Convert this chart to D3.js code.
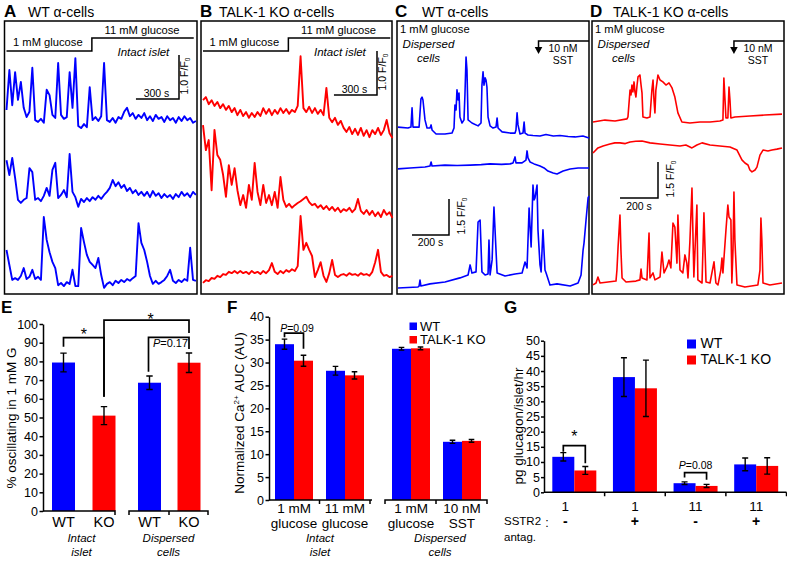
<!DOCTYPE html>
<html><head><meta charset="utf-8">
<script src="https://cdn.jsdelivr.net/npm/d3@7"></script>
<style>
body{margin:0;background:#fff}
svg{display:block}
text{font-family:"Liberation Sans",Arial,Helvetica,sans-serif;fill:#000}
</style>
</head><body>
<svg id="chart" width="787" height="561"></svg>
<script>
// ---------------- DATA ----------------
// Panels A/B: intact islet traces, F/F0 relative to each trace baseline, one value every 20 s
const traceStep = 20;
const glucoseSwitchA = 595;   // s, 1 mM -> 11 mM glucose
const traceA1 = [0.34,1.25,0.45,1.2,0.57,0.98,0.39,0.18,0.3,1.3,0.11,0.07,0.14,0.05,0.8,0.68,0.23,0.16,1.41,0.23,0.14,0.18,1.2,0.39,1.52,-0.02,-0.07,0.02,-0.05,0.86,0.11,0.18,0.09,0.2,1.41,0.11,0.07,0.16,0.05,0.18,0.14,0.3,0.39,0.2,0.27,0.14,0.23,0.16,0.27,0.11,0.2,0.09,0.23,0.14,0.18,0.07,0.2,0.11,0.16,0.05,0.18,0.09,0.2,0.11,0.16,0.05,0.09];
const traceA2 = [0.95,0.61,1.0,0.55,0.05,-0.02,0.05,0.09,0.77,0.68,0.05,0.09,0.02,0.14,0.32,0.14,0.73,0.89,0.09,0.16,0.27,0.11,1.09,0.23,0.11,-0.11,0.07,0,0.09,0.02,0.11,0.05,0.14,0.07,0.16,0.23,0.32,0.5,0.36,0.45,0.32,0.39,0.25,0.32,0.2,0.27,0.16,0.23,0.14,0.23,0.11,0.25,0.14,0.2,0.09,0.18,0.11,0.16,0.07,0.18,0.11,0.23,0.14,0.2,0.11,0.23,0.16];
const traceA3 = [0.75,0.41,0.07,0.11,0.07,0.16,0.34,0.09,0.14,0.3,0.09,0.14,0.07,1.5,0.98,0.7,0.48,0.34,-0.05,0,-0.07,0.02,-0.02,0.3,-0.07,-0.07,1.25,0.93,0.64,0.48,0.41,0.34,0.57,0.18,-0.11,-0.02,0.02,-0.05,0.05,0,0.07,0.02,0.09,0.05,0.11,0.16,1.36,0.91,0.75,0.48,0.16,-0.02,0.05,-0.02,0.02,0.07,0.16,0.3,0.05,0,0.07,0.02,0.09,0.05,0.8,0.07,0.05];
const traceB1 = [0.45,0.52,0.36,0.45,0.32,0.41,0.27,0.36,0.23,0.32,0.18,0.27,0.11,0.23,0.09,0.18,0.05,0.16,0.07,0.18,0.09,0.27,0.14,0.25,0.11,0.23,0.14,0.27,0.16,0.25,0.14,0.23,0.18,0.32,1.45,0.27,0.18,0.3,0.16,0.27,0.14,0.23,0.11,0.73,0.05,-0.05,0.05,-0.11,-0.02,-0.18,-0.27,-0.16,-0.32,-0.2,-0.34,-0.18,-0.36,-0.23,-0.39,-0.23,-0.32,-0.18,-0.34,-0.23,0,-0.3,-0.41];
const traceB2 = [1.93,1.36,1.59,0.45,1.82,1.25,1.14,0.8,0.3,1.02,0.57,0.95,0.45,0.11,0.34,0.05,0.57,0.23,1.07,0.41,0.11,0.57,0.16,0.34,0.11,0.41,0.05,0.75,0.23,0.07,0.14,0.05,0.11,0.16,0.2,0.25,0.3,0.18,0.11,0.14,0.05,0.11,0.02,0.09,0,0.07,-0.02,0.05,-0.05,0.02,-0.02,0.05,-0.05,0.02,0.25,-0.02,-0.09,0,-0.11,-0.02,-0.14,-0.05,-0.16,0,-0.11,-0.05,-0.18];
const traceB3 = [-0.11,-0.05,-0.07,0,-0.02,0.05,0.02,0.09,0.07,0.14,0.11,0.16,0.11,0.16,0.11,0.14,0.09,0.16,0.11,0.14,0.09,0.16,0.11,0.18,0.34,0.14,0.09,0.16,0.11,0.18,0.14,0.2,0.16,0.27,1.41,0.64,0.8,0.64,0.5,0.02,0.18,0.36,0.05,-0.09,0.11,0.41,0.07,0.02,0.07,0.09,0.05,0.11,0.07,0.09,0.05,0.11,0.07,0.09,0.05,0.14,0.36,0.64,0.14,0.05,0.07,0.02,0.05];

// Panels C/D: dispersed cells, [time s, F/F0 relative to baseline]
const sstTimeC = 760, sstTimeD = 742;
const traceC1 = [[0,0.33],[54,0.29],[70,0.33],[76,1.13],[81,0.33],[114,0.33],[124,1.5],[130,1.58],[135,1.46],[146,0.63],[157,0.29],[173,0.29],[179,0.42],[184,0.21],[206,0.04],[254,0.04],[292,0.08],[303,0.29],[308,1.25],[314,1.04],[319,1.88],[325,1.46],[330,1.75],[335,0.75],[346,0.5],[357,0.63],[362,1.67],[368,3.25],[373,2.71],[379,0.63],[400,0.5],[433,0.38],[449,0.5],[454,2.08],[460,2.63],[465,2.08],[471,2.38],[476,2.29],[481,2.0],[487,0.75],[498,0.38],[514,0.29],[530,0.33],[536,0.71],[541,0.29],[563,0.13],[606,0.08],[633,0.08],[638,0.21],[644,0.92],[649,0.42],[660,0.04],[676,0.08],[682,0.54],[687,0.08],[703,0],[730,-0.02],[768,-0.04],[800,0.02],[840,-0.04],[876,-0.02],[920,-0.06],[958,-0.08],[1000,-0.04],[1033,-0.13]];
const traceC2 = [[0,-0.08],[65,-0.04],[146,0],[173,0.04],[179,0.21],[184,0.04],[254,0.08],[320,0.06],[390,0.08],[450,0.1],[498,0.13],[560,0.11],[606,0.13],[622,0.17],[633,0.42],[638,0.17],[671,0.17],[692,0.29],[698,0.67],[703,0.38],[714,0.21],[736,0.13],[768,0.04],[790,-0.04],[811,-0.17],[839,-0.25],[860,-0.29],[893,-0.17],[931,-0.08],[974,-0.04],[1033,-0.04]];
const traceC3 = [[0,-0.04],[108,0],[114,0.04],[119,0.29],[124,0.04],[173,0.13],[254,0.21],[335,0.38],[379,0.5],[390,0.92],[400,0.58],[422,0.63],[433,2.71],[444,2.79],[454,0.63],[471,0.5],[487,0.54],[492,1.96],[498,0.5],[509,1.13],[519,3.33],[530,1.54],[536,0.58],[579,0.46],[633,0.54],[671,0.58],[687,1.04],[698,0.79],[709,3.29],[720,1.67],[730,4.25],[736,3.63],[741,3.71],[752,4.25],[757,2.38],[768,0.92],[774,0.63],[784,2.38],[795,0.71],[801,0.58],[822,0.08],[860,0.13],[931,0.04],[974,0.17],[990,0.5],[1001,1.54],[1006,1.83],[1017,2.79],[1028,3.71],[1033,3.79]];
const traceD1 = [[0,0],[63,0.08],[116,0.04],[179,0.13],[184,0.21],[195,1.33],[200,1.13],[205,1.54],[210,1.25],[216,1.67],[221,1.25],[226,1.04],[232,1.54],[237,1.88],[247,1.96],[253,1.54],[258,1.21],[263,0.21],[284,0.17],[300,0.21],[310,1.33],[316,1.75],[321,0.92],[326,0.38],[331,1.33],[337,1.67],[342,1.96],[353,1.75],[368,1.67],[384,1.54],[400,1.63],[416,1.42],[431,1.04],[447,0.38],[468,0],[510,-0.04],[563,0],[616,0],[668,0.04],[684,0.08],[689,1.83],[695,0.92],[700,0.17],[710,0.17],[716,1.46],[721,0.92],[726,0.17],[747,0.21],[826,0.25],[905,0.29],[995,0.33]];
const traceD2 = [[0,-0.29],[26,-0.08],[53,0],[89,0.08],[115,0.13],[142,0.13],[170,0.1],[195,0.17],[225,0.2],[258,0.21],[300,0.13],[353,0.08],[405,0.04],[458,0],[489,0.04],[521,-0.08],[547,0.04],[574,0.13],[616,0.04],[668,0],[721,-0.04],[758,-0.17],[784,-0.58],[800,-0.71],[816,-0.79],[826,-1.0],[837,-1.08],[853,-1.0],[863,-0.88],[879,-0.38],[895,-0.17],[921,-0.21],[942,-0.17],[968,-0.13],[995,-0.08]];
const traceD3 = [[0,-0.08],[16,0],[26,0.25],[37,0],[79,0.04],[121,0.08],[126,0.54],[132,1.5],[142,2.83],[147,1.38],[153,0.21],[174,0.04],[226,0.08],[247,0.13],[253,0.58],[258,0.21],[284,0.13],[295,2.08],[300,0.21],[316,0.42],[326,0.13],[353,0.25],[363,1.29],[374,0.42],[389,0.67],[400,0.96],[410,0.63],[421,2.5],[431,2.33],[442,0.83],[447,2.83],[458,0.54],[473,0.42],[484,1.17],[494,0.83],[500,0.21],[510,1.71],[521,3.96],[531,0.25],[547,3.25],[552,0.13],[574,0],[584,2.92],[595,0.04],[616,0],[637,0.88],[647,0],[658,-0.08],[673,0.54],[679,1.04],[684,0.42],[700,2.21],[710,3.25],[716,2.75],[726,2.63],[731,0],[737,1.38],[742,3.79],[747,1.79],[758,-0.08],[800,-0.17],[868,-0.08],[879,0.54],[884,2.71],[889,1.79],[895,0],[931,-0.08],[995,0]];

// Panel E
const eLabels = ["WT","KO","WT","KO"];
const eGroups = ["Intact islet","Dispersed cells"];
const eGroupOf = [0,0,1,1];
const eValues = [79.4, 51.0, 68.6, 79.3];
const eErrors = [5.0, 4.8, 3.6, 5.2];
const eTicks = [0,10,20,30,40,50,60,70,80,90,100];

// Panel F
const fCategories = [["1 mM","glucose"],["11 mM","glucose"],["1 mM","glucose"],["10 nM","SST"]];
const fGroups = ["Intact islet","Dispersed cells"];
const fGroupOf = [0,0,1,1];
const fWT = [34.0, 28.2, 33.0, 12.7];
const fWTErr = [1.1, 0.95, 0.3, 0.35];
const fKO = [30.4, 27.2, 33.1, 12.9];
const fKOErr = [1.2, 0.8, 0.3, 0.3];
const fTicks = [0,5,10,15,20,25,30,35,40];

// Panel G
const gGlucose = ["1","1","11","11"];
const gAntag = ["-","+","-","+"];
const gWT = [11.7, 38.0, 3.0, 9.2];
const gWTErr = [1.4, 6.4, 0.45, 2.1];
const gKO = [7.2, 34.3, 2.1, 8.7];
const gKOErr = [1.3, 9.3, 0.5, 2.7];
const gTicks = [0,5,10,15,20,25,30,35,40,45,50];

const seriesNames = ["WT","TALK-1 KO"];
const BLUE = "#0000ff", RED = "#ff0000";

// ---------------- DRAWING ----------------
const svg = d3.select("#chart");

function txt(x, y, s, o = {}) {
  const t = svg.append("text").attr("x", x).attr("y", y).text(s)
    .attr("font-size", o.size || 12).attr("text-anchor", o.anchor || "start");
  if (o.italic) t.attr("font-style", "italic");
  if (o.bold) t.attr("font-weight", "bold");
  return t;
}
function line(d, w = 1.5) {
  return svg.append("path").attr("d", d).attr("fill", "none").attr("stroke", "#000").attr("stroke-width", w);
}
function frame(x0, y0, x1, y1) {
  svg.append("rect").attr("x", x0).attr("y", y0).attr("width", x1 - x0).attr("height", y1 - y0)
    .attr("fill", "none").attr("stroke", "#000").attr("stroke-width", 1.5);
}
function rotLabel(x, y, main, sub, size) {
  const t = svg.append("text").attr("transform", `translate(${x},${y}) rotate(-90)`)
    .attr("text-anchor", "middle").attr("font-size", size);
  t.append("tspan").text(main);
  t.append("tspan").attr("font-size", size * 0.62).attr("dy", 2).text(sub);
  return t;
}
function drawTraces(xs, pxPerF, traces, color, w) {
  traces.forEach(tr => {
    const ys = d3.scaleLinear().domain([0, 1]).range([tr.base, tr.base - pxPerF]);
    svg.append("path").datum(tr.data)
      .attr("d", d3.line().x(d => xs(d[0])).y(d => ys(d[1])))
      .attr("fill", "none").attr("stroke", color).attr("stroke-width", w)
      .attr("stroke-linejoin", "round");
  });
}
const uniform = arr => arr.map((v, i) => [i * traceStep, v]);

// ----- Panel titles -----
[["A", 4, "WT α-cells", 28], ["B", 200, "TALK-1 KO α-cells", 219],
 ["C", 395, "WT α-cells", 422], ["D", 590, "TALK-1 KO α-cells", 613]].forEach(p => {
  txt(p[1], 16.5, p[0], { size: 17, bold: true });
  txt(p[3], 16.5, p[2], { size: 14 });
});

// ----- Panels A & B -----
function intactPanel(left, right, traces, color, barRight, barBottom) {
  frame(left, 21, right, 294);
  const xs = d3.scaleLinear().domain([0, 1320]).range([left + 2, left + 2 + 189.4]);
  drawTraces(xs, 44, traces, color, 1.9);
  // glucose step
  line(`M${xs(0)},51H${xs(glucoseSwitchA)}V38H${xs(1305)}`, 1.5);
  txt(left + 8.5, 45.7, "1 mM glucose", { size: 11.2 });
  txt(left + 100, 34, "11 mM glucose", { size: 11.2 });
  txt(left + 113, 56, "Intact islet", { size: 11.5, italic: true });
  // scale bar: 300 s x 1.0 F/F0
  const len = xs(300) - xs(0);
  line(`M${barRight - len},${barBottom}H${barRight}V${barBottom - 44}`, 1.5);
  txt(barRight - len / 2 - 1, barBottom - 2.5, "300 s", { size: 10.5, anchor: "middle" });
  rotLabel(barRight + 9, barBottom - 23, "1.0 F/F", "0", 10.5);
}
intactPanel(4.5, 197, [
  { base: 125, data: uniform(traceA1) },
  { base: 202, data: uniform(traceA2) },
  { base: 283, data: uniform(traceA3) }], BLUE, 179, 99);
intactPanel(201, 392, [
  { base: 120, data: uniform(traceB1) },
  { base: 210, data: uniform(traceB2) },
  { base: 278, data: uniform(traceB3) }], RED, 377, 95);

// ----- Panels C & D -----
function dispersedPanel(left, right, xs, traces, color, sstT, bar) {
  frame(left, 21, right, 294);
  drawTraces(xs, 24, traces, color, 1.6);
  txt(left + 3, 33.3, "1 mM glucose", { size: 11.2 });
  txt(left + 31.5, 48, "Dispersed", { size: 11.5, italic: true, anchor: "middle" });
  txt(left + 31.5, 61.7, "cells", { size: 11.5, italic: true, anchor: "middle" });
  const ax = xs(sstT);
  line(`M${right},41H${ax}V48`, 1.5);
  svg.append("path").attr("d", `M${ax - 3.8},47L${ax + 3.8},47L${ax},54Z`).attr("fill", "#000");
  txt(left + 166, 51.7, "10 nM", { size: 10.5, anchor: "middle" });
  txt(left + 166, 64, "SST", { size: 10.5, anchor: "middle" });
  // scale bar: 200 s x 1.5 F/F0
  const len = xs(200) - xs(0);
  line(`M${bar.x - len},${bar.y}H${bar.x}V${bar.y - 36}`, 1.5);
  txt(bar.x - len / 2, bar.ty, "200 s", { size: 10.5, anchor: "middle" });
  rotLabel(bar.x + 16, bar.y - 19, "1.5 F/F", "0", 10.5);
}
const xC = d3.scaleLinear().domain([0, 1033]).range([398, 589]);
dispersedPanel(397, 589, xC, [
  { base: 135, data: traceC1 }, { base: 167, data: traceC2 }, { base: 287, data: traceC3 }],
  BLUE, sstTimeC, { x: 449, y: 235, ty: 245.5 });
const xD = d3.scaleLinear().domain([0, 995]).range([593, 782]);
dispersedPanel(592, 784, xD, [
  { base: 122, data: traceD1 }, { base: 146, data: traceD2 }, { base: 283, data: traceD3 }],
  RED, sstTimeD, { x: 658, y: 198, ty: 209.5 });

// ----- common bar helpers -----
function styleAxis(g, size) {
  g.selectAll("path,line").attr("stroke", "#000").attr("stroke-width", 1.5);
  g.selectAll("text").attr("font-size", size).attr("font-family", null);
  g.attr("font-family", null);
}
function errBar(cx, ys, v, e, cap = 3.2) {
  line(`M${cx},${ys(v + e)}V${ys(v - e)}M${cx - cap},${ys(v + e)}H${cx + cap}M${cx - cap},${ys(v - e)}H${cx + cap}`, 1.4);
}
function bracket(x1, x2, ys, b1, top, b2) {
  line(`M${x1},${ys(b1)}V${ys(top)}H${x2}V${ys(b2)}`, 1.7);
}
function pText(cx, y, val, size) {
  const t = svg.append("text").attr("x", cx).attr("y", y).attr("text-anchor", "middle").attr("font-size", size);
  t.append("tspan").attr("font-style", "italic").text("P");
  t.append("tspan").text("=" + val);
}
function star(cx, y) { txt(cx, y, "*", { size: 16, anchor: "middle" }); }

// ----- Panel E -----
txt(1, 313, "E", { size: 17, bold: true });
const yE = d3.scaleLinear().domain([0, 100]).range([511, 324]);
const xE = [d3.scalePoint().domain(["WT", "KO"]).range([63.5, 104]),
            d3.scalePoint().domain(["WT", "KO"]).range([149.5, 189])];
const eCx = eLabels.map((l, i) => xE[eGroupOf[i]](l));
eValues.forEach((v, i) => {
  svg.append("rect").attr("x", eCx[i] - 11.5).attr("y", yE(v)).attr("width", 23)
    .attr("height", yE(0) - yE(v)).attr("fill", eLabels[i] === "WT" ? BLUE : RED);
});
eValues.forEach((v, i) => errBar(eCx[i], yE, v, eErrors[i]));
styleAxis(svg.append("g").attr("transform", "translate(43,0)")
  .call(d3.axisLeft(yE).tickValues(eTicks).tickSize(3.5).tickPadding(1.5).tickSizeOuter(0)), 12.5);
line(`M43,${yE(0)}H115V${yE(0) + 4}`);
line(`M129,${yE(0) + 4}V${yE(0)}H208V${yE(0) + 4}M169,${yE(0)}V${yE(0) + 4}`);
eLabels.forEach((l, i) => txt(eCx[i], 527, l, { size: 14.5, anchor: "middle" }));
[[81.5, 0], [168.5, 1]].forEach(([cx, g]) => {
  const parts = eGroups[g].split(" ");
  txt(cx, 542, parts[0], { size: 11.5, italic: true, anchor: "middle" });
  txt(cx, 556, parts[1], { size: 11.5, italic: true, anchor: "middle" });
});
bracket(eCx[0], eCx[1], yE, 87.9, 92.7, 61.1);
star((eCx[0] + eCx[1]) / 2, 340);
bracket(eCx[1], eCx[3], yE, 61.1, 102.1, 95.2);
star((eCx[1] + eCx[3]) / 2 + 4, 324.5);
bracket(eCx[2] - 1, eCx[3], yE, 74.5, 92.9, 86.6);
pText(170.5, 346.7, "0.17", 11);
svg.append("text").attr("transform", "translate(15.5,418) rotate(-90)")
  .attr("text-anchor", "middle").attr("font-size", 13.5).text("% oscillating in 1 mM G");

// ----- Panel F -----
txt(227, 313, "F", { size: 17, bold: true });
const yF = d3.scaleLinear().domain([0, 40]).range([500, 316.7]);
const xFseg = [d3.scalePoint().domain([0, 1]).range([294, 345]),
               d3.scalePoint().domain([2, 3]).range([411, 462])];
const xFin = d3.scaleBand().domain(seriesNames).range([-19, 19]);
const fCx = fCategories.map((c, i) => xFseg[fGroupOf[i]](i));
[[fWT, BLUE, "WT"], [fKO, RED, "TALK-1 KO"]].forEach(([vals, col, name]) => {
  vals.forEach((v, i) => {
    svg.append("rect").attr("x", fCx[i] + xFin(name)).attr("y", yF(v)).attr("width", xFin.bandwidth())
      .attr("height", yF(0) - yF(v)).attr("fill", col);
  });
});
[[fWT, fWTErr, "WT"], [fKO, fKOErr, "TALK-1 KO"]].forEach(([vals, errs, name]) => {
  vals.forEach((v, i) => errBar(fCx[i] + xFin(name) + xFin.bandwidth() / 2, yF, v, errs[i], 2.8));
});
styleAxis(svg.append("g").attr("transform", "translate(269,0)")
  .call(d3.axisLeft(yF).tickValues(fTicks).tickSize(3.5).tickPadding(1.5).tickSizeOuter(0)), 12.5);
line(`M269,${yF(0)}H372M319.5,${yF(0)}V${yF(0) + 4}M370,${yF(0)}V${yF(0) + 4}`);
line(`M385,${yF(0) + 4}V${yF(0)}H487V${yF(0) + 4}M436,${yF(0)}V${yF(0) + 4}`);
fCategories.forEach((c, i) => {
  txt(fCx[i], 513, c[0], { size: 13.5, anchor: "middle" });
  txt(fCx[i], 527.5, c[1], { size: 13.5, anchor: "middle" });
});
[[320, 0], [440, 1]].forEach(([cx, g]) => {
  const parts = fGroups[g].split(" ");
  txt(cx, 542, parts[0], { size: 11.5, italic: true, anchor: "middle" });
  txt(cx, 556, parts[1], { size: 11.5, italic: true, anchor: "middle" });
});
bracket(fCx[0] - 9.5, fCx[0] + 9.5, yF, 35.5, 36.4, 33.0);
pText(297, 332, "0.09", 10.5);
{
  const t = svg.append("text").attr("transform", "translate(243.5,413) rotate(-90)")
    .attr("text-anchor", "middle").attr("font-size", 13.5);
  t.append("tspan").text("Normalized Ca");
  t.append("tspan").attr("font-size", 8).attr("dy", -5).text("2+");
  t.append("tspan").attr("dy", 5).text(" AUC (AU)");
}
// legend F
seriesNames.forEach((n, i) => {
  svg.append("rect").attr("x", 409.5).attr("y", 322.5 + i * 13.5).attr("width", 7.5).attr("height", 7.5)
    .attr("fill", i === 0 ? BLUE : RED);
  txt(420, 330.5 + i * 13.5, n, { size: 13 });
});

// ----- Panel G -----
txt(504, 313, "G", { size: 17, bold: true });
const yG = d3.scaleLinear().domain([0, 50]).range([492.3, 340.7]);
const xG = d3.scaleBand().domain(d3.range(4)).range([544, 786.5]);
const xGin = d3.scaleBand().domain(seriesNames).range([-22, 22]);
const gCx = gGlucose.map((g, i) => xG(i) + xG.bandwidth() / 2);
[[gWT, BLUE, "WT"], [gKO, RED, "TALK-1 KO"]].forEach(([vals, col, name]) => {
  vals.forEach((v, i) => {
    svg.append("rect").attr("x", gCx[i] + xGin(name)).attr("y", yG(v)).attr("width", xGin.bandwidth())
      .attr("height", yG(0) - yG(v)).attr("fill", col);
  });
});
[[gWT, gWTErr, "WT"], [gKO, gKOErr, "TALK-1 KO"]].forEach(([vals, errs, name]) => {
  vals.forEach((v, i) => errBar(gCx[i] + xGin(name) + xGin.bandwidth() / 2, yG, v, errs[i], 3));
});
styleAxis(svg.append("g").attr("transform", "translate(544,0)")
  .call(d3.axisLeft(yG).tickValues(gTicks).tickSize(3).tickPadding(1).tickSizeOuter(0)), 12.5);
{
  let d = `M544,${yG(0)}H786.5`;
  xG.domain().forEach(i => { if (i > 0) d += `M${xG(i)},${yG(0)}V${yG(0) + 4}`; });
  d += `M786.5,${yG(0)}V${yG(0) + 4}`;
  line(d);
}
gGlucose.forEach((g, i) => {
  txt(gCx[i], 511, g, { size: 13.5, anchor: "middle" }).attr("dx", i === 0 ? -9 : 0);
  txt(gCx[i], 526, gAntag[i], { size: 14, anchor: "middle", bold: true }).attr("dx", i === 0 ? -9 : 0);
});
txt(504, 525, "SSTR2", { size: 11.5 });
txt(504, 540.5, "antag.", { size: 11.5 });
txt(547, 527, ":", { size: 12.5, anchor: "middle" });
bracket(gCx[0] - 11, gCx[0] + 11, yG, 13.4, 15.4, 9.6);
star(gCx[0], 442);
bracket(gCx[2] - 11, gCx[2] + 11, yG, 4.9, 6.5, 4.1);
pText(gCx[2], 469.3, "0.08", 10.5);
svg.append("text").attr("transform", "translate(523,426) rotate(-90)")
  .attr("text-anchor", "middle").attr("font-size", 13.5).text("pg glucagon/islet/hr");
seriesNames.forEach((n, i) => {
  svg.append("rect").attr("x", 687).attr("y", 339.5 + i * 16).attr("width", 9).attr("height", 9)
    .attr("fill", i === 0 ? BLUE : RED);
  txt(700.5, 348.3 + i * 16, n, { size: 14 });
});
</script>
</body></html>
